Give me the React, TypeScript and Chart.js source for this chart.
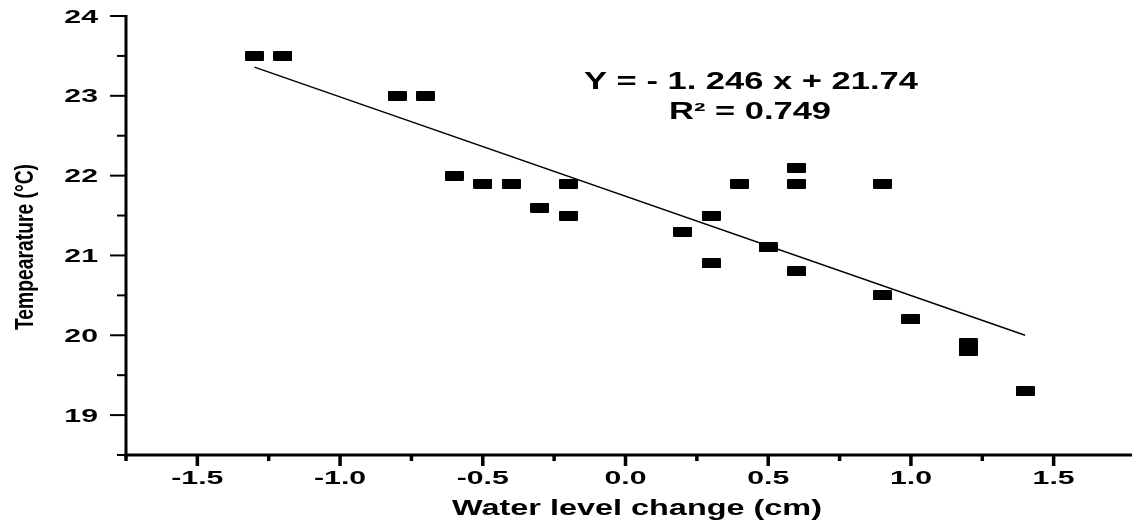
import { useEffect, useRef } from 'react';
import { Chart, registerables } from 'chart.js';

Chart.register(...registerables);

// ---- Data ----
const waterLevel = [-1.3, -1.2, -0.8, -0.7, -0.6, -0.5, -0.4, -0.3, -0.2, -0.2, 0.2, 0.3, 0.3, 0.4, 0.5, 0.6, 0.6, 0.6, 0.9, 0.9, 1.0, 1.2, 1.2, 1.4];
const temperature = [23.5, 23.5, 23.0, 23.0, 22.0, 21.9, 21.9, 21.6, 21.9, 21.5, 21.3, 21.5, 20.9, 21.9, 21.1, 22.1, 21.9, 20.8, 21.9, 20.5, 20.2, 19.9, 19.8, 19.3];

// fitted line end points
const fitX = [-1.3, 1.4];
const fitY = [23.36, 20.0];

// ticks
const xMajorTicks = [-1.5, -1.0, -0.5, 0.0, 0.5, 1.0, 1.5];
const xTickLabels = ['-1.5', '-1.0', '-0.5', '0.0', '0.5', '1.0', '1.5'];
const xMinorTicks = [-1.75, -1.25, -0.75, -0.25, 0.25, 0.75, 1.25];
const yMajorTicks = [19, 20, 21, 22, 23, 24];
const yTickLabels = ['19', '20', '21', '22', '23', '24'];
const yMinorTicks = [18.5, 19.5, 20.5, 21.5, 22.5, 23.5];

// texts
const equationText = 'Y = - 1. 246 x + 21.74';
const r2Text = 'R² = 0.749';
const xTitle = 'Water level change (cm)';
const yTitle = 'Tempearature (°C)';

const FONT = '"Liberation Sans", Arial, sans-serif';

function drawStretched(
  ctx: CanvasRenderingContext2D,
  text: string,
  x: number,
  y: number,
  font: string,
  sx: number,
  align: 'left' | 'center' | 'right'
) {
  ctx.save();
  ctx.font = font;
  ctx.textBaseline = 'alphabetic';
  ctx.textAlign = 'left';
  const w = ctx.measureText(text).width * sx;
  const left = align === 'center' ? x - w / 2 : align === 'right' ? x - w : x;
  ctx.translate(left, y);
  ctx.scale(sx, 1);
  ctx.fillStyle = '#000';
  ctx.fillText(text, 0, 0);
  ctx.restore();
}

function drawFitted(
  ctx: CanvasRenderingContext2D,
  text: string,
  cx: number,
  y: number,
  font: string,
  targetWidth: number
) {
  ctx.save();
  ctx.font = font;
  const w = ctx.measureText(text).width;
  ctx.restore();
  drawStretched(ctx, text, cx, y, font, targetWidth / w, 'center');
}

const axesPlugin = {
  id: 'originAxes',
  afterDraw(chart: any) {
    const ctx: CanvasRenderingContext2D = chart.ctx;
    const xs = chart.scales.x;
    const ys = chart.scales.y;
    const { left, bottom } = chart.chartArea;
    const top24 = ys.getPixelForValue(24);
    ctx.save();
    ctx.strokeStyle = '#000';
    ctx.lineCap = 'butt';

    // axis lines
    ctx.lineWidth = 3;
    ctx.beginPath();
    ctx.moveTo(left, top24 - 1);
    ctx.lineTo(left, bottom + 1.5);
    ctx.stroke();
    ctx.beginPath();
    ctx.moveTo(left - 1.5, bottom);
    ctx.lineTo(chart.width, bottom);
    ctx.stroke();

    // y ticks
    ctx.lineWidth = 2;
    yMajorTicks.forEach((v) => {
      const p = ys.getPixelForValue(v);
      ctx.beginPath();
      ctx.moveTo(left - 16, p);
      ctx.lineTo(left, p);
      ctx.stroke();
    });
    yMinorTicks.forEach((v) => {
      const p = ys.getPixelForValue(v);
      ctx.beginPath();
      ctx.moveTo(left - 9, p);
      ctx.lineTo(left, p);
      ctx.stroke();
    });

    // x ticks
    ctx.lineWidth = 3.5;
    xMajorTicks.forEach((v) => {
      const p = xs.getPixelForValue(v);
      ctx.beginPath();
      ctx.moveTo(p, bottom);
      ctx.lineTo(p, bottom + 11);
      ctx.stroke();
    });
    xMinorTicks.forEach((v) => {
      const p = xs.getPixelForValue(v);
      ctx.beginPath();
      ctx.moveTo(p, bottom);
      ctx.lineTo(p, bottom + 6);
      ctx.stroke();
    });
    ctx.restore();

    // tick labels
    const tickFont = `bold 18px ${FONT}`;
    xMajorTicks.forEach((v, i) => {
      const p = xs.getPixelForValue(v);
      drawStretched(ctx, xTickLabels[i], p, bottom + 29, tickFont, 1.68, 'center');
    });
    yMajorTicks.forEach((v, i) => {
      const p = ys.getPixelForValue(v);
      drawStretched(ctx, yTickLabels[i], left - 28, p + 6.5, tickFont, 1.68, 'right');
    });

    // axis titles
    drawFitted(ctx, xTitle, 637, 515, `bold 22px ${FONT}`, 370);
    ctx.save();
    ctx.translate(33, 247);
    ctx.rotate(-Math.PI / 2);
    drawFitted(ctx, yTitle, 0, 0, `bold 25px ${FONT}`, 166);
    ctx.restore();

    // regression annotation
    drawFitted(ctx, equationText, 751, 89, `bold 23px ${FONT}`, 334);
    drawFitted(ctx, r2Text, 750, 119, `bold 23px ${FONT}`, 162);
  },
};

export default function App() {
  const canvasRef = useRef<HTMLCanvasElement | null>(null);

  useEffect(() => {
    document.body.style.margin = '0';
    const canvas = canvasRef.current;
    if (!canvas) return;

    const marker = document.createElement('canvas');
    marker.width = 19;
    marker.height = 10;
    const mctx = marker.getContext('2d');
    if (mctx) {
      mctx.fillStyle = '#000';
      mctx.beginPath();
      (mctx as any).roundRect ? (mctx as any).roundRect(0, 0, 19, 10, 1) : mctx.rect(0, 0, 19, 10);
      mctx.fill();
    }

    const chart = new Chart(canvas, {
      type: 'scatter',
      data: {
        datasets: [
          {
            label: 'Temperature',
            data: waterLevel.map((x, i) => ({ x, y: temperature[i] })),
            pointStyle: marker as any,
            pointRadius: 6,
            backgroundColor: '#000',
            borderColor: '#000',
          },
          {
            label: 'Fit',
            data: fitX.map((x, i) => ({ x, y: fitY[i] })),
            showLine: true,
            pointRadius: 0,
            borderColor: '#000',
            borderWidth: 1.5,
            backgroundColor: '#000',
          },
        ],
      },
      options: {
        responsive: false,
        animation: false,
        events: [],
        layout: { padding: { top: 16, right: 0, left: 0, bottom: 0 } },
        plugins: {
          legend: { display: false },
          tooltip: { enabled: false },
        },
        scales: {
          x: {
            type: 'linear',
            min: -1.75,
            max: 1.75,
            grid: { display: false },
            border: { display: false },
            ticks: { display: false, stepSize: 0.25 },
            afterFit: (scale: any) => {
              scale.height = 65;
            },
          },
          y: {
            type: 'linear',
            min: 18.5,
            max: 24,
            grid: { display: false },
            border: { display: false },
            ticks: { display: false, stepSize: 0.5 },
            afterFit: (scale: any) => {
              scale.width = 126;
            },
          },
        },
      },
      plugins: [axesPlugin],
    });

    return () => {
      chart.destroy();
    };
  }, []);

  return (
    <div style={{ width: 1132, height: 520 }}>
      <canvas ref={canvasRef} width={1132} height={520} style={{ display: 'block' }} />
    </div>
  );
}
